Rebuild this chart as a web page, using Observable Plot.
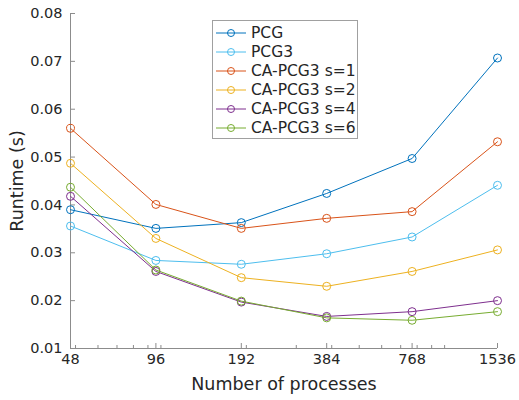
<!DOCTYPE html>
<html>
<head>
<meta charset="utf-8">
<script src="https://cdn.jsdelivr.net/npm/d3@7"></script>
<script src="https://cdn.jsdelivr.net/npm/@observablehq/plot@0.6"></script>
<style>
  body { margin: 0; background: #fff; }
  #wrap { position: relative; width: 519px; height: 400px; font-family: "DejaVu Sans", sans-serif; }
  #legend { position: absolute; left: 212px; top: 20px; width: 144px; height: 115px; border: 1px solid #a0a0a0; background: #fff; box-sizing: content-box; padding-top: 2px; }
  .row { height: 19px; display: flex; align-items: center; font-size: 15.5px; color: #262626; white-space: nowrap; }
  .row svg { margin-left: 3px; margin-right: 5px; }
</style>
</head>
<body>
<div id="wrap"><div id="legend"></div></div>
<script>
const procs = [48, 96, 192, 384, 768, 1536];
const seriesNames = ["PCG", "PCG3", "CA-PCG3 s=1", "CA-PCG3 s=2", "CA-PCG3 s=4", "CA-PCG3 s=6"];
const seriesColors = ["#0072BD", "#4DBEEE", "#D95319", "#EDB120", "#7E2F8E", "#77AC30"];
const pcg   = [0.0390, 0.0351, 0.0363, 0.0424, 0.0497, 0.0707];
const pcg3  = [0.0356, 0.0284, 0.0276, 0.0298, 0.0333, 0.0441];
const caS1  = [0.0560, 0.0401, 0.0351, 0.0372, 0.0386, 0.0532];
const caS2  = [0.0487, 0.0330, 0.0248, 0.0230, 0.0261, 0.0306];
const caS4  = [0.0418, 0.0261, 0.0197, 0.0167, 0.0177, 0.0200];
const caS6  = [0.0437, 0.0264, 0.0199, 0.0164, 0.0159, 0.0177];
const yTicks = [0.01, 0.02, 0.03, 0.04, 0.05, 0.06, 0.07, 0.08];
const xMinorTicks = [50, 60, 70, 80, 90, 100, 200, 300, 400, 500, 600, 700, 800, 900, 1000];

const allSeries = [pcg, pcg3, caS1, caS2, caS4, caS6];
const data = allSeries.flatMap((vals, i) => vals.map((v, j) => ({series: seriesNames[i], procs: procs[j], runtime: v})));

const W = 519, H = 400, mL = 70, mR = 22, mT = 13, mB = 52;
const pw = W - mL - mR, ph = H - mT - mB;
const axisColor = "#8c8c8c";

const chart = Plot.plot({
  width: W, height: H,
  marginLeft: mL, marginRight: mR, marginTop: mT, marginBottom: mB,
  style: {fontFamily: "DejaVu Sans, sans-serif", fontSize: "14.5px", color: "#262626", background: "#fff"},
  x: {type: "log", domain: [48, 1536]},
  y: {domain: [0.01, 0.08]},
  color: {domain: seriesNames, range: seriesColors},
  marks: [
    Plot.axisX({ticks: [], tickSize: 0,
      label: "Number of processes", labelAnchor: "center", labelArrow: "none", labelOffset: 41}),
    Plot.text(procs, {x: d => d, frameAnchor: "bottom", dy: 15, text: d => String(d), fontSize: 14.5, fill: "#262626"}),
    Plot.axisY({ticks: yTicks, tickSize: 0, tickPadding: 8, tickFormat: d3.format(".2f"),
      label: "Runtime (s)", labelAnchor: "center", labelArrow: "none", labelOffset: 60, fontSize: 14.5}),
    Plot.tickX(procs, {x: d => d, stroke: axisColor, insetTop: ph - 5}),
    Plot.tickX(xMinorTicks, {x: d => d, stroke: axisColor, insetTop: ph - 3}),
    Plot.tickY(yTicks, {y: d => d, stroke: axisColor, insetRight: pw - 5}),
    Plot.ruleX([48], {stroke: axisColor}),
    Plot.ruleY([0.01], {stroke: axisColor}),
    Plot.line(data, {x: "procs", y: "runtime", z: "series", stroke: "series", strokeWidth: 1}),
    Plot.dot(data, {x: "procs", y: "runtime", stroke: "series", r: 4, strokeWidth: 1, fill: "none"})
  ]
});
chart.style.position = "absolute";
chart.style.left = "0px";
chart.style.top = "0px";
const wrap = document.getElementById("wrap");
wrap.insertBefore(chart, wrap.firstChild);
chart.querySelectorAll("[aria-label='x-axis label'] text, [aria-label='y-axis label'] text, [aria-label='x-axis label'], [aria-label='y-axis label']").forEach(t => t.style.fontSize = "17.5px");

const legend = document.getElementById("legend");
seriesNames.forEach((name, i) => {
  const row = document.createElement("div");
  row.className = "row";
  row.innerHTML = `<svg width="30" height="12"><line x1="0" x2="30" y1="6" y2="6" stroke="${seriesColors[i]}" stroke-width="1"/><circle cx="15" cy="6" r="3.5" fill="none" stroke="${seriesColors[i]}"/></svg><span>${name}</span>`;
  legend.appendChild(row);
});
</script>
</body>
</html>
